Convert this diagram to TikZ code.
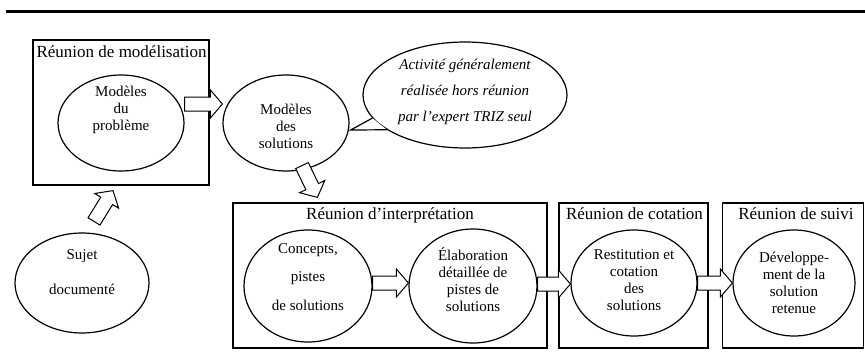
\documentclass[tikz,border=0pt]{standalone}
\usepackage{fontspec}
\setmainfont{Liberation Serif}
\usetikzlibrary{shapes.geometric,calc}

\newcommand{\fatarrow}[2]{%
  \path (#1) coordinate (fa-a) (#2) coordinate (fa-b);
  \coordinate (fa-h) at ($(fa-b)!12pt!(fa-a)$);
  \filldraw[fill=white,line width=1pt,line join=miter]
    ($(fa-a)!7pt!90:(fa-b)$) -- ($(fa-h)!7pt!90:(fa-b)$) -- ($(fa-h)!14pt!90:(fa-b)$)
    -- (fa-b) -- ($(fa-h)!14pt!-90:(fa-b)$) -- ($(fa-h)!7pt!-90:(fa-b)$)
    -- ($(fa-a)!7pt!-90:(fa-b)$) -- cycle;}

\tikzset{
  ell/.style={draw,ellipse,inner sep=0pt,line width=1.2pt,fill=white},
  meetbox/.style={draw,rectangle,inner sep=0pt,line width=1.2pt},
  txt/.style={align=center,inner sep=0pt,font=\fontsize{15}{17}\selectfont},
  title/.style={inner sep=0pt,font=\fontsize{17}{20}\selectfont},
}

\begin{document}
\begin{tikzpicture}[x=1pt,y=-1pt]
\useasboundingbox (0,0) rectangle (865,357);
\draw[line width=3pt] (6,11.5) -- (865,11.5);

% reunions
\node[meetbox,minimum width=176pt,minimum height=145pt] (mod) at (121,112.5) {};
\node[meetbox,minimum width=314pt,minimum height=145pt] (int) at (390,275.5) {};
\node[meetbox,minimum width=149pt,minimum height=145pt] (cot) at (633.5,275.5) {};
\node[meetbox,minimum width=141pt,minimum height=145pt] (sui) at (793,275.5) {};
\node[title,anchor=base west] (mod-t) at ($(mod.north west)+(4,18)$) {Réunion de modélisation};
\node[title,anchor=base] (int-t) at ($(int.north)+(0,17)$) {Réunion d’interprétation};
\node[title,anchor=base] (cot-t) at ($(cot.north)+(1,17)$) {Réunion de cotation};
\node[title,anchor=base] (sui-t) at ($(sui.north)+(3,17)$) {Réunion de suivi};

% activites
\node[ell,minimum width=126pt,minimum height=96pt] (mp) at (121,123) {};
\node[txt] (mp-t) at (121,110) {Modèles\\du\\problème};
\node[ell,minimum width=126pt,minimum height=96pt] (ms) at (286,123) {};
\node[txt] (ms-t) at (286,126) {Modèles\\des\\solutions};
\node[ell,minimum width=134pt,minimum height=100pt] (sd) at (82,283) {};
\node[txt] (sd-t) at (82,272) {Sujet\\[18pt]documenté};
\node[ell,minimum width=128pt,minimum height=112pt] (cp) at (308,286) {};
\node[txt] (cp-t) at (308,277) {Concepts,\\[11.5pt]pistes\\[11.5pt]de solutions};
\node[ell,minimum width=128pt,minimum height=114pt] (el) at (473,286) {};
\node[txt] (el-t) at (473,280) {Élaboration\\détaillée de\\pistes de\\solutions};
\node[ell,minimum width=126pt,minimum height=106pt] (rc) at (634,283) {};
\node[txt] (rc-t) at (634,280) {Restitution et\\cotation\\des\\solutions};
\node[ell,minimum width=122pt,minimum height=106pt] (dv) at (794,283) {};
\node[txt] (dv-t) at (794,283) {Développe-\\ment de la\\solution\\retenue};

% bulle
\node[ell,minimum width=204pt,minimum height=106pt] (co) at (465,95) {};
\coordinate (tip) at ($(ms.east)+(1,7)$);
\fill[white] (tip) -- (co.194) -- (co.204) -- cycle;
\draw[line width=1.2pt] (co.194) -- (tip) -- (co.204);
\node[align=center,inner sep=0pt,font=\fontsize{15}{26}\selectfont\itshape] (co-t) at (465,92)
  {Activité généralement\\réalisée hors réunion\\par l’expert TRIZ seul};

% fleches
\fatarrow{$(mp.east)+(0,-19)$}{$(ms.west)+(0,-19)$}
\fatarrow{$(sd.north)+(12,-11)$}{$(mod.south)+(-8,5)$}
\fatarrow{$(ms.south)+(16,-6)$}{$(int.north west)+(85,-5)$}
\fatarrow{$(cp.east)+(0,-3)$}{$(el.west)+(0,-3)$}
\fatarrow{$(el.east)+(0,-2)$}{$(rc.west)+(0,1)$}
\fatarrow{rc.east}{dv.west}
\end{tikzpicture}
\end{document}
